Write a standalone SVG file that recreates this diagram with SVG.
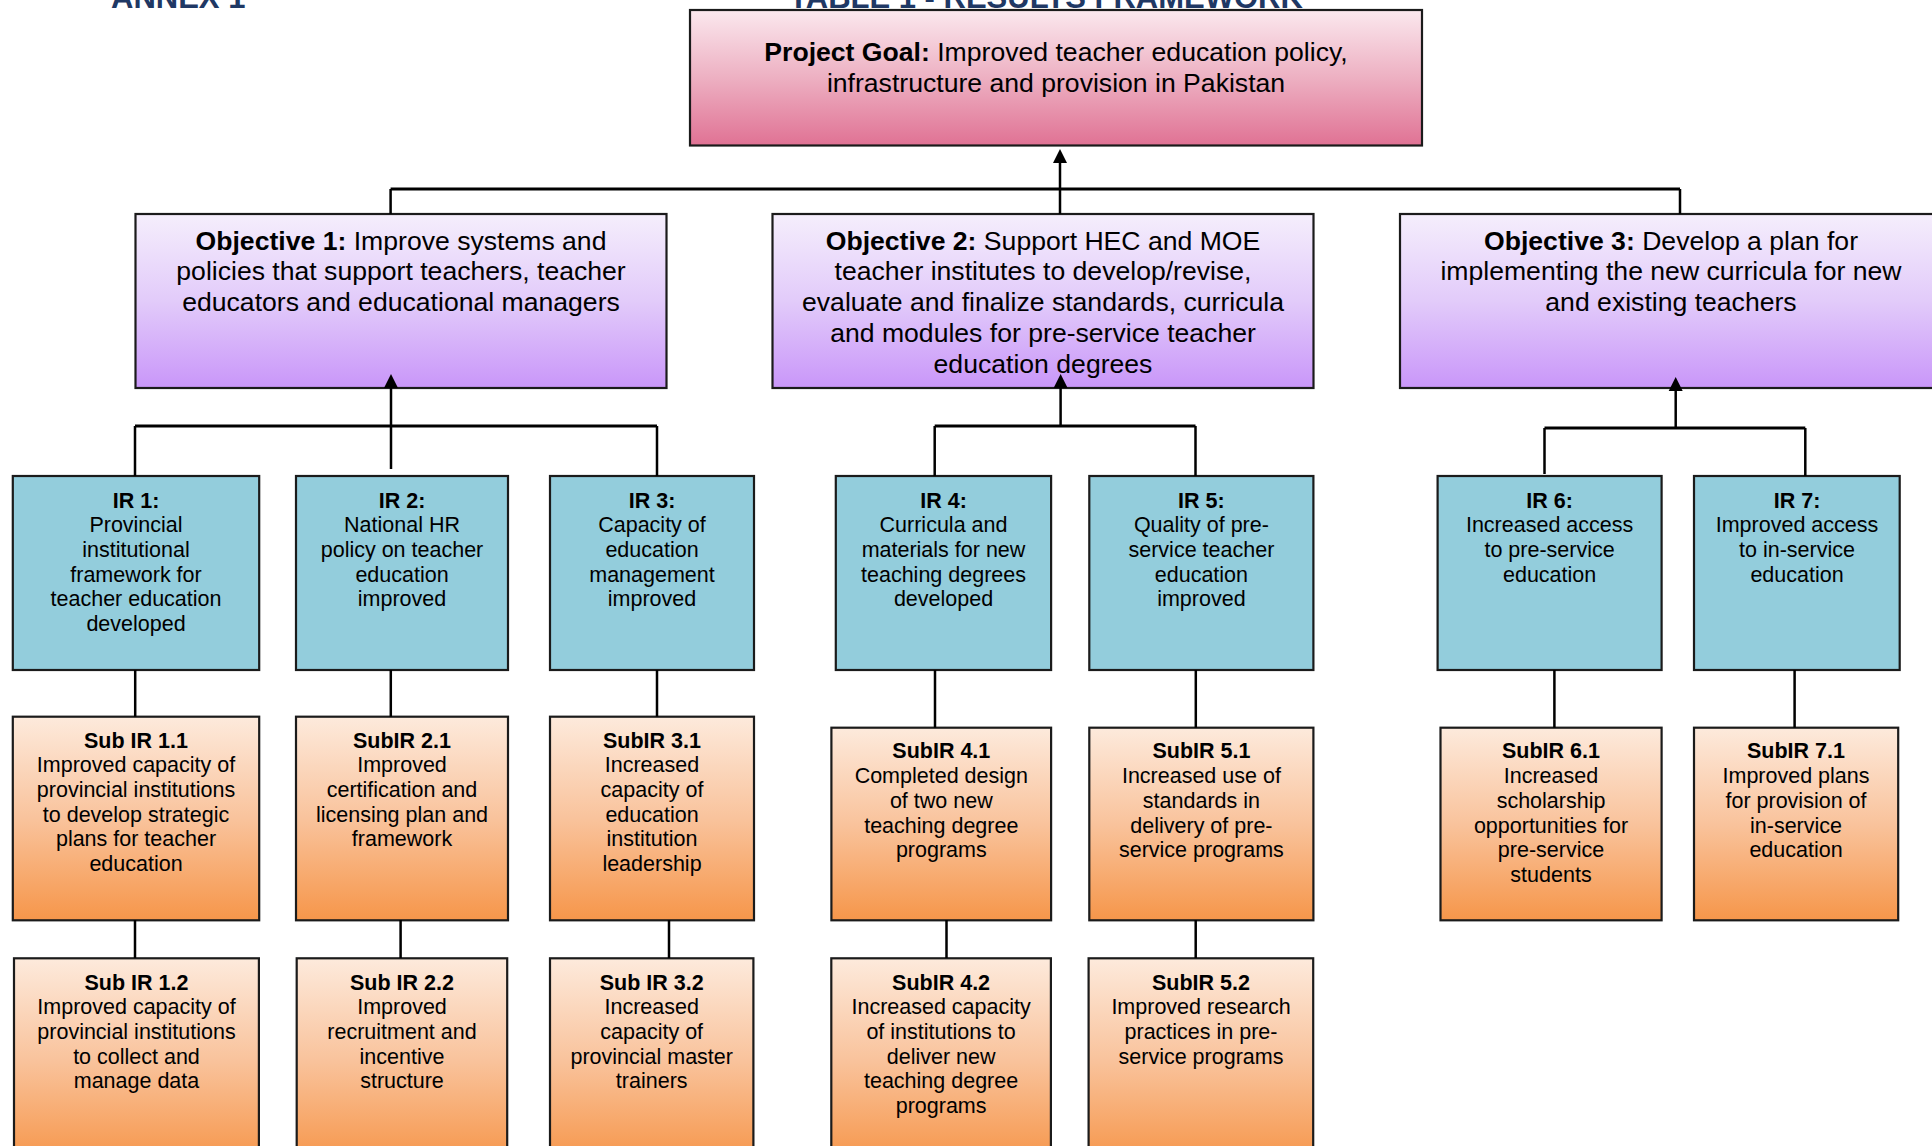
<svg xmlns="http://www.w3.org/2000/svg" width="1932" height="1146" viewBox="0 0 1932 1146">
<defs>
<linearGradient id="gGoal" x1="0" y1="0" x2="0" y2="1"><stop offset="0" stop-color="#FBE8EE"/><stop offset="0.5" stop-color="#EDB0C2"/><stop offset="1" stop-color="#E07294"/></linearGradient>
<linearGradient id="gObj" x1="0" y1="0" x2="0" y2="1"><stop offset="0" stop-color="#F5EEFC"/><stop offset="0.5" stop-color="#E2CBFA"/><stop offset="1" stop-color="#C996F9"/></linearGradient>
<linearGradient id="gSub" x1="0" y1="0" x2="0" y2="1"><stop offset="0" stop-color="#FDEADC"/><stop offset="0.5" stop-color="#F9C39C"/><stop offset="1" stop-color="#F6964A"/></linearGradient>
<marker id="arr" markerUnits="userSpaceOnUse" markerWidth="16" markerHeight="16" refX="0" refY="7" orient="auto" overflow="visible"><path d="M0,0 L14,7 L0,14 z" fill="#000"/></marker>
<style>
.box{stroke:#1b1b1b;stroke-width:2.2}
.goal{fill:url(#gGoal)}
.obj{fill:url(#gObj)}
.ir{fill:#93CDDC}
.sub{fill:url(#gSub)}
.t{font-family:"Liberation Sans",Arial,sans-serif;text-anchor:middle;fill:#000}
.big{font-size:26.6px}
.sm{font-size:21.5px}
.b{font-weight:bold}
.hd{font-family:"Liberation Sans",Arial,sans-serif;font-weight:bold;font-size:31px;fill:#1F3864}
.c{stroke:#000;stroke-width:2.5;fill:none}
.bar{stroke-width:3.2}
</style>
</defs>

<g id="header">
<text class="hd" x="111" y="8">ANNEX 1</text>
<text class="hd" x="1046" y="8" text-anchor="middle">TABLE 1 - RESULTS FRAMEWORK</text>
</g>

<g id="goal">
<rect class="box goal" x="690" y="10" width="732" height="135.5"/>
<text class="t big" x="1056" y="61"><tspan class="b">Project Goal:</tspan> Improved teacher education policy,</text>
<text class="t big" x="1056" y="92">infrastructure and provision in Pakistan</text>
</g>

<g id="obj1">
<rect class="box obj" x="135.5" y="214" width="531" height="174"/>
<text class="t big" x="401" y="249.5"><tspan class="b">Objective 1:</tspan> Improve systems and</text>
<text class="t big" x="401" y="280.3">policies that support teachers, teacher</text>
<text class="t big" x="401" y="311.1">educators and educational managers</text>
</g>
<g id="obj2">
<rect class="box obj" x="772.5" y="214" width="541" height="174"/>
<text class="t big" x="1043" y="249.5"><tspan class="b">Objective 2:</tspan> Support HEC and MOE</text>
<text class="t big" x="1043" y="280.3">teacher institutes to develop/revise,</text>
<text class="t big" x="1043" y="311.1">evaluate and finalize standards, curricula</text>
<text class="t big" x="1043" y="341.9">and modules for pre-service teacher</text>
<text class="t big" x="1043" y="372.5">education degrees</text>
</g>
<g id="obj3">
<rect class="box obj" x="1400" y="214" width="542" height="174"/>
<text class="t big" x="1671" y="249.5"><tspan class="b">Objective 3:</tspan> Develop a plan for</text>
<text class="t big" x="1671" y="280.3">implementing the new curricula for new</text>
<text class="t big" x="1671" y="311.1">and existing teachers</text>
</g>

<g id="ir1">
<rect class="box ir" x="12.8" y="476" width="246.4" height="194"/>
<text class="t sm" x="136" y="507.5"><tspan class="b">IR 1:</tspan><tspan x="136" dy="24.7">Provincial</tspan><tspan x="136" dy="24.7">institutional</tspan><tspan x="136" dy="24.7">framework for</tspan><tspan x="136" dy="24.7">teacher education</tspan><tspan x="136" dy="24.7">developed</tspan></text>
</g>
<g id="ir2">
<rect class="box ir" x="296" y="476" width="212" height="194"/>
<text class="t sm" x="402" y="507.5"><tspan class="b">IR 2:</tspan><tspan x="402" dy="24.7">National HR</tspan><tspan x="402" dy="24.7">policy on teacher</tspan><tspan x="402" dy="24.7">education</tspan><tspan x="402" dy="24.7">improved</tspan></text>
</g>
<g id="ir3">
<rect class="box ir" x="550" y="476" width="204" height="194"/>
<text class="t sm" x="652" y="507.5"><tspan class="b">IR 3:</tspan><tspan x="652" dy="24.7">Capacity of</tspan><tspan x="652" dy="24.7">education</tspan><tspan x="652" dy="24.7">management</tspan><tspan x="652" dy="24.7">improved</tspan></text>
</g>
<g id="ir4">
<rect class="box ir" x="835.8" y="476" width="215.3" height="194"/>
<text class="t sm" x="943.5" y="507.5"><tspan class="b">IR 4:</tspan><tspan x="943.5" dy="24.7">Curricula and</tspan><tspan x="943.5" dy="24.7">materials for new</tspan><tspan x="943.5" dy="24.7">teaching degrees</tspan><tspan x="943.5" dy="24.7">developed</tspan></text>
</g>
<g id="ir5">
<rect class="box ir" x="1089.3" y="476" width="224.1" height="194"/>
<text class="t sm" x="1201.4" y="507.5"><tspan class="b">IR 5:</tspan><tspan x="1201.4" dy="24.7">Quality of pre-</tspan><tspan x="1201.4" dy="24.7">service teacher</tspan><tspan x="1201.4" dy="24.7">education</tspan><tspan x="1201.4" dy="24.7">improved</tspan></text>
</g>
<g id="ir6">
<rect class="box ir" x="1437.6" y="476" width="224" height="194"/>
<text class="t sm" x="1549.6" y="507.5"><tspan class="b">IR 6:</tspan><tspan x="1549.6" dy="24.7">Increased access</tspan><tspan x="1549.6" dy="24.7">to pre-service</tspan><tspan x="1549.6" dy="24.7">education</tspan></text>
</g>
<g id="ir7">
<rect class="box ir" x="1694" y="476" width="205.7" height="194"/>
<text class="t sm" x="1797" y="507.5"><tspan class="b">IR 7:</tspan><tspan x="1797" dy="24.7">Improved access</tspan><tspan x="1797" dy="24.7">to in-service</tspan><tspan x="1797" dy="24.7">education</tspan></text>
</g>

<g id="sub11">
<rect class="box sub" x="12.8" y="716.7" width="246.4" height="203.6"/>
<text class="t sm" x="136" y="747.7"><tspan class="b">Sub IR 1.1</tspan><tspan x="136" dy="24.6">Improved capacity of</tspan><tspan x="136" dy="24.6">provincial institutions</tspan><tspan x="136" dy="24.6">to develop strategic</tspan><tspan x="136" dy="24.6">plans for teacher</tspan><tspan x="136" dy="24.6">education</tspan></text>
</g>
<g id="sub21">
<rect class="box sub" x="296" y="716.7" width="212" height="203.6"/>
<text class="t sm" x="402" y="747.7"><tspan class="b">SubIR 2.1</tspan><tspan x="402" dy="24.6">Improved</tspan><tspan x="402" dy="24.6">certification and</tspan><tspan x="402" dy="24.6">licensing plan and</tspan><tspan x="402" dy="24.6">framework</tspan></text>
</g>
<g id="sub31">
<rect class="box sub" x="550" y="716.7" width="204" height="203.6"/>
<text class="t sm" x="652" y="747.7"><tspan class="b">SubIR 3.1</tspan><tspan x="652" dy="24.6">Increased</tspan><tspan x="652" dy="24.6">capacity of</tspan><tspan x="652" dy="24.6">education</tspan><tspan x="652" dy="24.6">institution</tspan><tspan x="652" dy="24.6">leadership</tspan></text>
</g>
<g id="sub41">
<rect class="box sub" x="831.4" y="727.7" width="219.7" height="192.6"/>
<text class="t sm" x="941.3" y="758.2"><tspan class="b">SubIR 4.1</tspan><tspan x="941.3" dy="24.8">Completed design</tspan><tspan x="941.3" dy="24.8">of two new</tspan><tspan x="941.3" dy="24.8">teaching degree</tspan><tspan x="941.3" dy="24.8">programs</tspan></text>
</g>
<g id="sub51">
<rect class="box sub" x="1089.3" y="727.7" width="224.1" height="192.6"/>
<text class="t sm" x="1201.4" y="758.2"><tspan class="b">SubIR 5.1</tspan><tspan x="1201.4" dy="24.8">Increased use of</tspan><tspan x="1201.4" dy="24.8">standards in</tspan><tspan x="1201.4" dy="24.8">delivery of pre-</tspan><tspan x="1201.4" dy="24.8">service programs</tspan></text>
</g>
<g id="sub61">
<rect class="box sub" x="1440.5" y="727.7" width="221.1" height="192.6"/>
<text class="t sm" x="1551" y="758.2"><tspan class="b">SubIR 6.1</tspan><tspan x="1551" dy="24.8">Increased</tspan><tspan x="1551" dy="24.8">scholarship</tspan><tspan x="1551" dy="24.8">opportunities for</tspan><tspan x="1551" dy="24.8">pre-service</tspan><tspan x="1551" dy="24.8">students</tspan></text>
</g>
<g id="sub71">
<rect class="box sub" x="1694" y="727.7" width="204.2" height="192.6"/>
<text class="t sm" x="1796" y="758.2"><tspan class="b">SubIR 7.1</tspan><tspan x="1796" dy="24.8">Improved plans</tspan><tspan x="1796" dy="24.8">for provision of</tspan><tspan x="1796" dy="24.8">in-service</tspan><tspan x="1796" dy="24.8">education</tspan></text>
</g>

<g id="sub12">
<rect class="box sub" x="14" y="958.3" width="244.9" height="204"/>
<text class="t sm" x="136.5" y="989.8"><tspan class="b">Sub IR 1.2</tspan><tspan x="136.5" dy="24.6">Improved capacity of</tspan><tspan x="136.5" dy="24.6">provincial institutions</tspan><tspan x="136.5" dy="24.6">to collect and</tspan><tspan x="136.5" dy="24.6">manage data</tspan></text>
</g>
<g id="sub22">
<rect class="box sub" x="296.7" y="958.3" width="210.5" height="204"/>
<text class="t sm" x="402" y="989.8"><tspan class="b">Sub IR 2.2</tspan><tspan x="402" dy="24.6">Improved</tspan><tspan x="402" dy="24.6">recruitment and</tspan><tspan x="402" dy="24.6">incentive</tspan><tspan x="402" dy="24.6">structure</tspan></text>
</g>
<g id="sub32">
<rect class="box sub" x="550" y="958.3" width="203.4" height="204"/>
<text class="t sm" x="651.7" y="989.8"><tspan class="b">Sub IR 3.2</tspan><tspan x="651.7" dy="24.6">Increased</tspan><tspan x="651.7" dy="24.6">capacity of</tspan><tspan x="651.7" dy="24.6">provincial master</tspan><tspan x="651.7" dy="24.6">trainers</tspan></text>
</g>
<g id="sub42">
<rect class="box sub" x="831.3" y="958.3" width="219.6" height="204"/>
<text class="t sm" x="941.1" y="989.8"><tspan class="b">SubIR 4.2</tspan><tspan x="941.1" dy="24.6">Increased capacity</tspan><tspan x="941.1" dy="24.6">of institutions to</tspan><tspan x="941.1" dy="24.6">deliver new</tspan><tspan x="941.1" dy="24.6">teaching degree</tspan><tspan x="941.1" dy="24.6">programs</tspan></text>
</g>
<g id="sub52">
<rect class="box sub" x="1088.6" y="958.3" width="224.6" height="204"/>
<text class="t sm" x="1201" y="989.8"><tspan class="b">SubIR 5.2</tspan><tspan x="1201" dy="24.6">Improved research</tspan><tspan x="1201" dy="24.6">practices in pre-</tspan><tspan x="1201" dy="24.6">service programs</tspan></text>
</g>

<g id="connectors">
<path class="c" d="M1060,189 V163" marker-end="url(#arr)"/>
<path class="c bar" d="M390.6,189 H1680"/>
<path class="c" d="M390.6,189 V214 M1060,189 V214 M1680,189 V214"/>
<path class="c" d="M391,469 V388" marker-end="url(#arr)"/>
<path class="c bar" d="M135,426 H657"/>
<path class="c" d="M135,426 V476 M657,426 V476"/>
<path class="c" d="M1060.6,426 V388" marker-end="url(#arr)"/>
<path class="c bar" d="M934.7,426 H1195.5"/>
<path class="c" d="M934.7,426 V476 M1195.5,426 V476"/>
<path class="c" d="M1675.7,428 V391" marker-end="url(#arr)"/>
<path class="c bar" d="M1544.5,428 H1805.3"/>
<path class="c" d="M1544.5,428 V474 M1805.3,428 V476"/>
<path class="c" d="M135.2,670 V716.7 M390.8,670 V716.7 M657,670 V716.7 M935,670 V727.7 M1195.8,670 V727.7 M1554.4,670 V727.7 M1794.6,670 V727.7"/>
<path class="c" d="M135,920 V958 M400.6,920 V958 M669,920 V958 M946.5,920 V958 M1195.7,920 V958"/>
</g>
</svg>
